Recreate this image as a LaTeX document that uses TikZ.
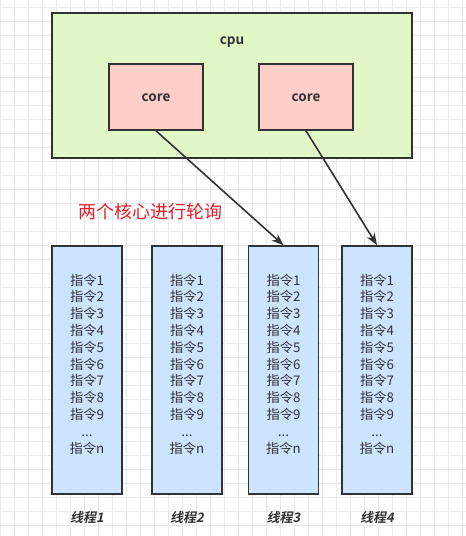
\documentclass[tikz,border=0pt]{standalone}
\usepackage{fontspec}
\setmainfont{Noto Sans CJK SC}
\newfontfamily\cjkbold{Noto Sans CJK SC Bold}
\newfontfamily\cjkbi[FakeSlant=0.2]{Noto Sans CJK SC Bold}
\usetikzlibrary{arrows.meta}
\definecolor{gridc}{RGB}{233,233,233}
\definecolor{cpufill}{RGB}{226,247,200}
\definecolor{corefill}{RGB}{255,206,200}
\definecolor{thfill}{RGB}{204,228,255}
\definecolor{edge}{RGB}{51,51,51}
\definecolor{txt}{RGB}{51,51,51}
\definecolor{redtxt}{RGB}{232,28,40}
\tikzset{
  box/.style={draw=edge, line width=1.6pt, inner sep=0pt},
  cpubox/.style={box, fill=cpufill, minimum width=360pt, minimum height=145pt},
  corebox/.style={box, fill=corefill, minimum width=94pt, minimum height=66pt},
  thbox/.style={box, fill=thfill, minimum width=70pt, minimum height=248pt},
  lbl/.style={text=txt, font=\cjkbold\fontsize{13.5pt}{15pt}\selectfont, inner sep=0pt},
  instr/.style={text=txt, align=center, font=\fontsize{13.3pt}{16.8pt}\selectfont, inner sep=0pt},
  thlbl/.style={text=txt, font=\cjkbi\fontsize{13pt}{15pt}\selectfont, inner sep=0pt},
  arr/.style={draw=edge, line width=1.6pt, -{Stealth[length=12pt,width=9pt]}}
}
\begin{document}
\begin{tikzpicture}[x=1pt,y=-1pt]
\useasboundingbox (0,0) rectangle (466,536);
\fill[white] (0,0) rectangle (466,536);
\foreach \gx in {0,14,...,466} \draw[gridc, line width=0.7pt] (\gx,0) -- (\gx,536);
\foreach \gy in {7.7,21.7,...,536} \draw[gridc, line width=0.7pt] (0,\gy) -- (466,\gy);

\node[cpubox] (cpu) at (232,85.5) {};
\node[lbl] (cpul) at (232,42) {cpu};
\node[corebox] (c1) at (156,97) {};
\node[corebox] (c2) at (306,97) {};
\node[lbl] (c1l) at (156,98) {core};
\node[lbl] (c2l) at (306,98) {core};

\node[text=redtxt, font=\fontsize{18pt}{20pt}\selectfont, inner sep=0pt] (poll) at (150,212) {两个核心进行轮询};

\foreach \i/\cx in {1/87,2/187,3/283.5,4/377}{
  \node[thbox] (t\i) at (\cx,370) {};
  \node[instr] (l\i) at (\cx,364) {指令1\\指令2\\指令3\\指令4\\指令5\\指令6\\指令7\\指令8\\指令9\\...\\指令n};
  \node[thlbl] (n\i) at (\cx,518) {线程\i};
}

\draw[arr] (c1.south) -- (t3.north);
\draw[arr] (c2.south) -- (t4.north);
\end{tikzpicture}
\end{document}
